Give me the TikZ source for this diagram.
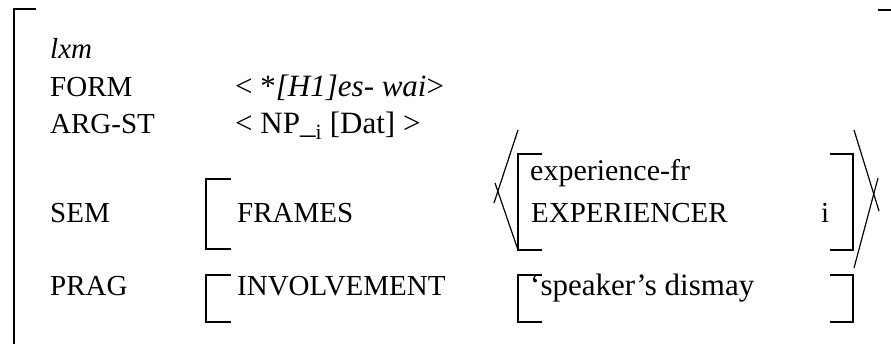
\documentclass[tikz,border=0pt]{standalone}
\usepackage{fontspec}
\setmainfont{Liberation Serif}
\begin{document}
\begin{tikzpicture}[x=1pt,y=-1pt,
  txt/.style={anchor=base west,inner sep=0pt,font=\fontsize{29}{33}\selectfont},
  val/.style={txt,font=\fontsize{31}{35}\selectfont},
  brk/.style={line width=1.3pt},
  ang/.style={line width=1.2pt}]
\useasboundingbox (0,0) rectangle (891,344);

% outer AVM bracket
\draw[brk] (36,9) -- (14,9) -- (14,344);
\draw[brk] (878,10) -- (891,10);

% feature names
\node[txt] (type)  at (50,59)  {\textit{lxm}};
\node[txt] (form)  at (50,97)  {FORM};
\node[txt] (argst) at (50,134) {ARG-ST};
\node[txt] (sem)   at (50,223) {SEM};
\node[txt] (prag)  at (50,296) {PRAG};

% values
\node[val] (formv)  at (235,97)  {< *\textit{[H1]es- wai}>};
\node[val] (argstv) at (235,134) {< NP\_\textsubscript{i} [Dat] >};
\node[txt] (frames) at (237,223) {FRAMES};
\node[txt] (invol)  at (237,296) {INVOLVEMENT};
\node[txt,font=\fontsize{30}{34}\selectfont] (efr) at (530,181) {experience-fr};
\node[txt] (exper)  at (531,223) {EXPERIENCER};
\node[txt] (idx)    at (821,223) {i};
\node[val] (dismay) at (530,296) {`speaker's dismay};

% SEM and PRAG brackets
\draw[brk] (231,179) -- (206,179) -- (206,249) -- (231,249);
\draw[brk] (231,275) -- (206,275) -- (206,322) -- (231,322);

% frame bracket
\draw[brk] (542,154) -- (518,154) -- (518,250) -- (542,250);
\draw[brk] (830,154) -- (853,154) -- (853,250) -- (830,250);

% list angle brackets
\draw[ang] (518,130) -- (494,203);
\draw[ang] (495,183) -- (518,250);
\draw[ang] (854,130) -- (879,211);
\draw[ang] (878,178) -- (854,268);

% involvement value bracket
\draw[brk] (542,275) -- (518,275) -- (518,322) -- (542,322);
\draw[brk] (830,275) -- (853,275) -- (853,322) -- (830,322);
\end{tikzpicture}
\end{document}
